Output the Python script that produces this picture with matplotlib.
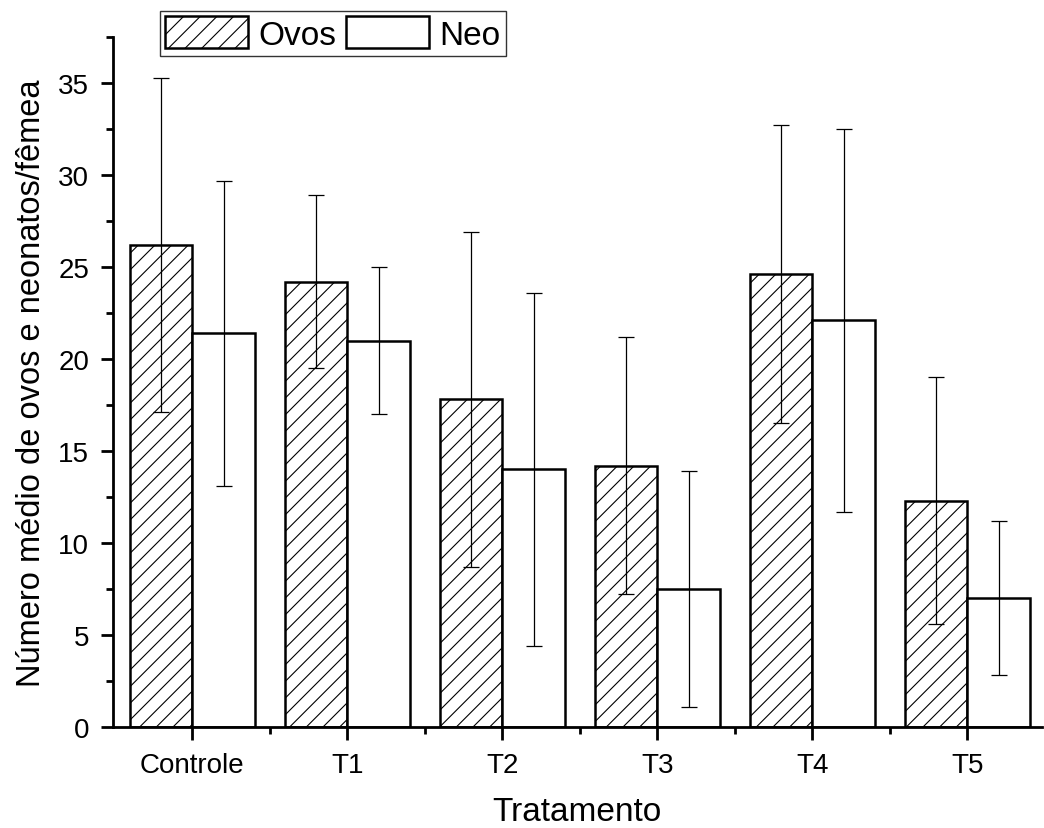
import numpy as np
import matplotlib
matplotlib.use("Agg")
import matplotlib.pyplot as plt
from matplotlib.ticker import MultipleLocator

plt.rcParams['font.family'] = ['Liberation Sans', 'DejaVu Sans']
plt.rcParams['hatch.linewidth'] = 0.8

# dados
tratamentos = ["Controle", "T1", "T2", "T3", "T4", "T5"]
ovos = [26.2, 24.2, 17.8, 14.2, 24.6, 12.3]
ovos_err = [9.1, 4.7, 9.1, 7.0, 8.1, 6.7]
neo = [21.4, 21.0, 14.0, 7.5, 22.1, 7.0]
neo_err = [8.3, 4.0, 9.6, 6.4, 10.4, 4.2]

fig = plt.figure(figsize=(10.44, 8.29), dpi=100)
ax = fig.add_axes([0.108, 0.122, 0.89, 0.832])

x = np.arange(len(tratamentos))
w = 0.404

b1 = ax.bar(x - w / 2, ovos, w, color="white", edgecolor="black", hatch="//",
            linewidth=1.8, label="Ovos", zorder=2)
b2 = ax.bar(x + w / 2, neo, w, color="white", edgecolor="black",
            linewidth=1.8, label="Neo", zorder=2)
ax.errorbar(x - w / 2, ovos, yerr=ovos_err, fmt="none", ecolor="black",
            elinewidth=0.9, capsize=5.5, capthick=0.9, zorder=3)
ax.errorbar(x + w / 2, neo, yerr=neo_err, fmt="none", ecolor="black",
            elinewidth=0.9, capsize=5.5, capthick=0.9, zorder=3)

ax.set_xlim(-0.513, 5.48)
ax.set_ylim(0, 37.5)
ax.set_xticks(x)
ax.set_xticklabels(tratamentos)
ax.set_xticks(x[:-1] + 0.5, minor=True)
ax.yaxis.set_major_locator(MultipleLocator(5))
ax.yaxis.set_minor_locator(MultipleLocator(2.5))

ax.spines["top"].set_visible(False)
ax.spines["right"].set_visible(False)
ax.spines["left"].set_linewidth(2)
ax.spines["bottom"].set_linewidth(2)
ax.tick_params(axis="both", which="major", direction="out", length=9, width=2,
               labelsize=20)
ax.tick_params(axis="both", which="minor", direction="out", length=5, width=2)
ax.tick_params(axis="x", which="major", pad=9)
ax.tick_params(axis="y", which="major", pad=8)

ax.set_xlabel("Tratamento", fontsize=24, labelpad=13)
ax.set_ylabel("Número médio de ovos e neonatos/fêmea", fontsize=23.5, labelpad=8)

leg = fig.legend(handles=[b1, b2], labels=["Ovos", "Neo"], loc="upper left",
                 bbox_to_anchor=(0.153, 0.985), ncol=2, fontsize=24,
                 frameon=True, fancybox=False, edgecolor="black",
                 handlelength=2.5, handleheight=1.1, handletextpad=0.3,
                 columnspacing=0.3, borderpad=0.15, borderaxespad=0)
leg.get_frame().set_linewidth(1.0)

fig.savefig("out.png", dpi=100)
